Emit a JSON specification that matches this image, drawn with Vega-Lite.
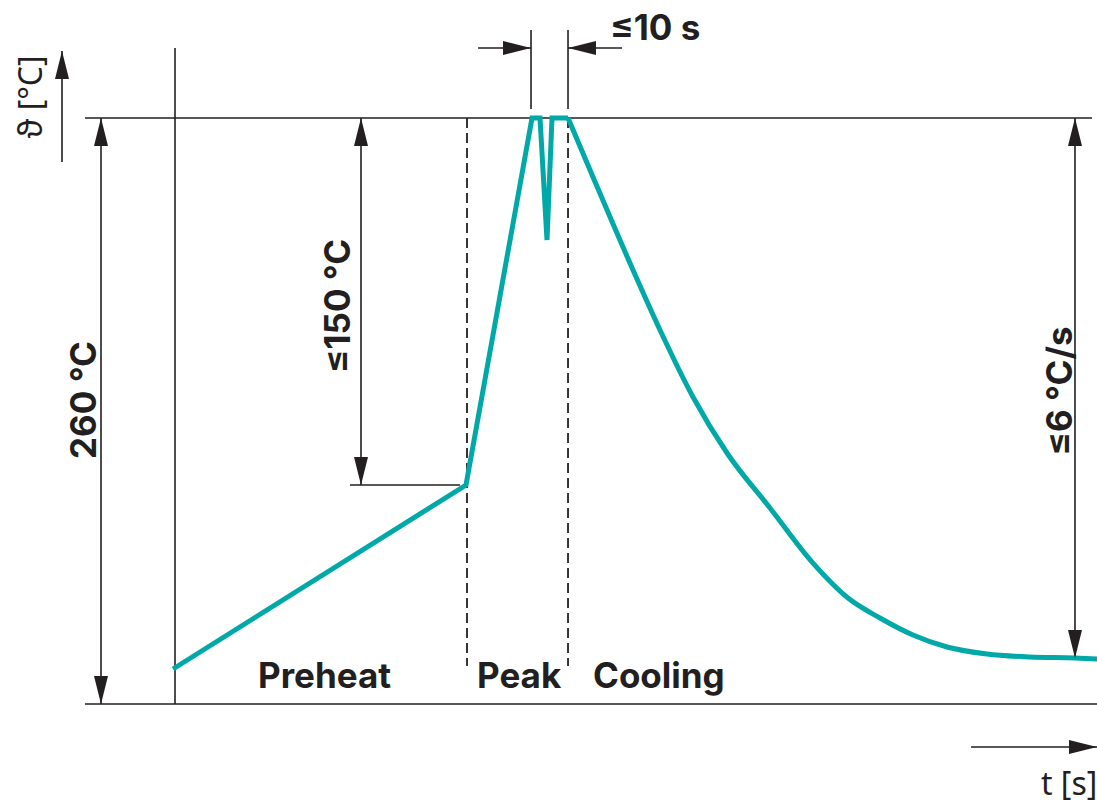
{
  "$schema": "https://vega.github.io/schema/vega-lite/v6.json",
  "width": 1097,
  "height": 800,
  "padding": 0,
  "autosize": "none",
  "background": "white",
  "config": {"view": {"stroke": null}},
  "encoding": {
    "x": {"field": "t", "type": "quantitative", "scale": {"domain": [-47.30, 249.19], "nice": false, "zero": false}, "axis": null},
    "y": {"field": "T", "type": "quantitative", "scale": {"domain": [-42.59, 312.36], "nice": false, "zero": false}, "axis": null}
  },
  "layer": [
    {
      "data": {"values": [
        {"name": "y-axis", "t": 0, "T": 291.06, "t2": 0, "T2": 0},
        {"name": "bottom", "t": -24.32, "T": 0, "t2": 249.19, "T2": 0},
        {"name": "top", "t": -24.32, "T": 260, "t2": 247.84, "T2": 260},
        {"name": "preheat level", "t": 47.30, "T": 97.17, "t2": 77.03, "T2": 97.17},
        {"name": "10s left ext", "t": 96.22, "T": 299.05, "t2": 96.22, "T2": 264.0},
        {"name": "10s right ext", "t": 106.22, "T": 299.05, "t2": 106.22, "T2": 264.0},
        {"name": "10s left dim", "t": 81.89, "T": 291.06, "t2": 96.22, "T2": 291.06},
        {"name": "10s right dim", "t": 106.22, "T": 291.06, "t2": 120.81, "T2": 291.06},
        {"name": "260 dim", "t": -20.0, "T": 0, "t2": -20.0, "T2": 260},
        {"name": "150 dim", "t": 50.27, "T": 97.17, "t2": 50.27, "T2": 260},
        {"name": "6 dim", "t": 243.24, "T": 20.41, "t2": 243.24, "T2": 260},
        {"name": "theta arrow", "t": -30.54, "T": 240.48, "t2": -30.54, "T2": 289.73},
        {"name": "t arrow", "t": 215.14, "T": -19.08, "t2": 249.19, "T2": -19.08}
      ]},
      "mark": {"type": "rule", "color": "#231f20", "strokeWidth": 1.6},
      "encoding": {
        "x2": {"field": "t2"},
        "y2": {"field": "T2"}
      }
    },
    {
      "data": {"values": [
        {"name": "preheat end", "t": 78.92, "T": 260, "t2": 78.92, "T2": 16.86},
        {"name": "peak end", "t": 106.22, "T": 260, "t2": 106.22, "T2": 16.86}
      ]},
      "mark": {"type": "rule", "color": "#231f20", "strokeWidth": 1.8, "strokeDash": [10, 5]},
      "encoding": {
        "x2": {"field": "t2"},
        "y2": {"field": "T2"}
      }
    },
    {
      "data": {"values": [
        {"i": 0, "t": -0.54, "T": 15.53},
        {"i": 1, "t": 78.65, "T": 97.17},
        {"i": 2, "t": 96.49, "T": 260},
        {"i": 3, "t": 98.65, "T": 260},
        {"i": 4, "t": 100.54, "T": 205.87},
        {"i": 5, "t": 101.89, "T": 260},
        {"i": 6, "t": 106.22, "T": 260}
      ]},
      "mark": {"type": "line", "color": "#00a9a8", "strokeWidth": 5},
      "encoding": {"order": {"field": "i", "type": "quantitative"}}
    },
    {
      "data": {"values": [
        {"i": 6, "t": 106.22, "T": 260},
        {"i": 7, "t": 112.97, "T": 233.82},
        {"i": 8, "t": 123.78, "T": 192.56},
        {"i": 9, "t": 131.08, "T": 165.94},
        {"i": 10, "t": 140.0, "T": 136.21},
        {"i": 11, "t": 149.19, "T": 111.37},
        {"i": 12, "t": 160.81, "T": 86.96},
        {"i": 14, "t": 172.43, "T": 62.5},
        {"i": 15, "t": 181.89, "T": 47.03},
        {"i": 16, "t": 190.54, "T": 38.16},
        {"i": 17, "t": 199.46, "T": 30.61},
        {"i": 18, "t": 208.65, "T": 25.29},
        {"i": 19, "t": 219.46, "T": 22.18},
        {"i": 20, "t": 231.08, "T": 20.85},
        {"i": 21, "t": 243.24, "T": 20.41},
        {"i": 22, "t": 249.19, "T": 19.97}
      ]},
      "mark": {"type": "line", "color": "#00a9a8", "strokeWidth": 5, "interpolate": "monotone"},
      "encoding": {"order": {"field": "i", "type": "quantitative"}}
    },
    {
      "data": {"values": [
        {"t": -30.54, "T": 289.73, "dir": "up"},
        {"t": -20.0, "T": 260, "dir": "up"},
        {"t": -20.0, "T": 0, "dir": "down"},
        {"t": 50.27, "T": 260, "dir": "up"},
        {"t": 50.27, "T": 97.17, "dir": "down"},
        {"t": 243.24, "T": 260, "dir": "up"},
        {"t": 243.24, "T": 20.41, "dir": "down"},
        {"t": 96.22, "T": 291.06, "dir": "right"},
        {"t": 106.22, "T": 291.06, "dir": "left"},
        {"t": 249.19, "T": -19.08, "dir": "right"}
      ]},
      "mark": {"type": "point", "filled": true, "opacity": 1, "color": "#231f20", "size": 784, "strokeWidth": 0},
      "encoding": {
        "shape": {
          "field": "dir",
          "type": "nominal",
          "legend": null,
          "scale": {
            "domain": ["up", "down", "left", "right"],
            "range": ["M -0.5 2 L 0 0 L 0.5 2 Z", "M -0.5 -2 L 0 0 L 0.5 -2 Z", "M 2 -0.5 L 0 0 L 2 0.5 Z", "M -2 -0.5 L 0 0 L -2 0.5 Z"]
          }
        }
      }
    },
    {
      "data": {"values": [
        {"t": 22.43, "T": 7.10, "label": "Preheat"},
        {"t": 81.62, "T": 7.10, "label": "Peak"},
        {"t": 112.97, "T": 7.10, "label": "Cooling"},
        {"t": 117.57, "T": 294.61, "label": "≤10 s"}
      ]},
      "mark": {"type": "text", "font": "Inter", "fontWeight": "bold", "fontSize": 35, "align": "left", "baseline": "alphabetic", "color": "#231f20"},
      "encoding": {"text": {"field": "label"}}
    },
    {
      "data": {"values": [
        {"t": -21.35, "T": 134.88, "label": "260 °C"},
        {"t": 47.30, "T": 176.59, "label": "≤150 °C"},
        {"t": 242.43, "T": 138.87, "label": "≤6 °C/s"}
      ]},
      "mark": {"type": "text", "font": "Inter", "fontWeight": "bold", "fontSize": 35, "angle": 270, "align": "center", "baseline": "alphabetic", "color": "#231f20"},
      "encoding": {"text": {"field": "label"}}
    },
    {
      "data": {"values": [
        {"t": -35.95, "T": 269.32, "label": "ϑ [°C]"}
      ]},
      "mark": {"type": "text", "font": "Noto Sans", "fontSize": 32, "angle": 270, "align": "center", "baseline": "alphabetic", "color": "#231f20"},
      "encoding": {"text": {"field": "label"}}
    },
    {
      "data": {"values": [
        {"t": 234.05, "T": -40.38, "label": "t [s]"}
      ]},
      "mark": {"type": "text", "font": "Noto Sans", "fontSize": 32, "align": "left", "baseline": "alphabetic", "color": "#231f20"},
      "encoding": {"text": {"field": "label"}}
    }
  ]
}
